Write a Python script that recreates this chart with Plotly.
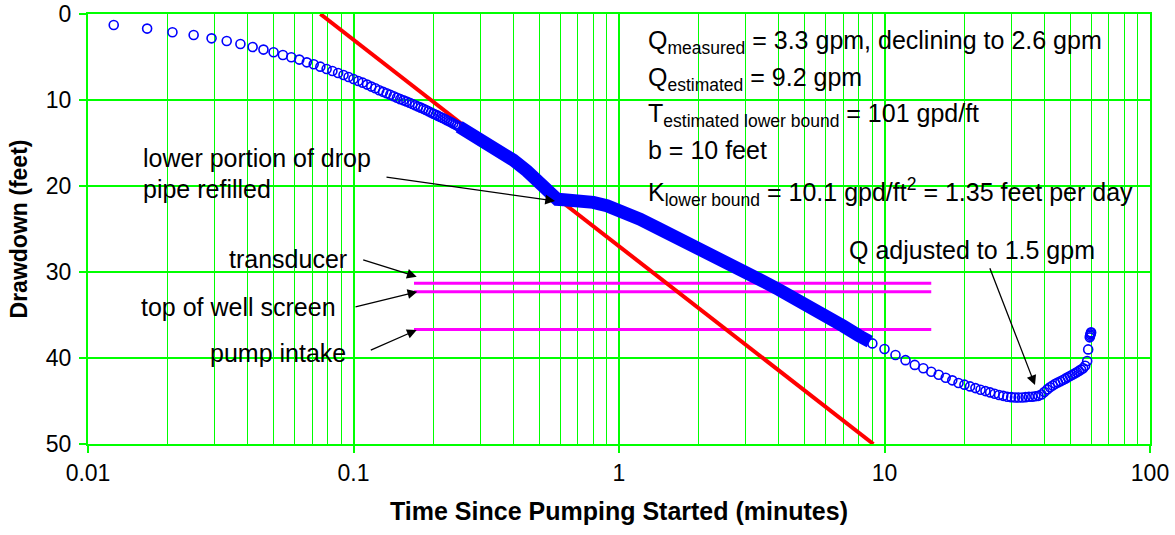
import plotly.graph_objects as go

# ---------------- data ----------------
# individually visible early samples (minutes, feet)
early_t = [0.0125, 0.0167, 0.0208, 0.0250, 0.0292, 0.0333, 0.0375, 0.0417, 0.0458, 0.0500,
           0.0542, 0.0583, 0.0625, 0.0667, 0.0708, 0.0750, 0.0792, 0.0833, 0.0875, 0.0917,
           0.0958, 0.1000, 0.1042, 0.1083, 0.1125, 0.1167, 0.1208, 0.1250, 0.1292, 0.1333,
           0.1375, 0.1417, 0.1458, 0.1500, 0.1542, 0.1583, 0.1625, 0.1667, 0.1708, 0.1750,
           0.1792, 0.1833, 0.1875, 0.1917, 0.1958, 0.2000, 0.2042, 0.2083, 0.2125, 0.2167,
           0.2208, 0.2250, 0.2292, 0.2333, 0.2375, 0.2417, 0.2458, 0.2500]
early_dd = [1.28, 1.70, 2.13, 2.44, 2.83, 3.14, 3.49, 3.84, 4.14, 4.45,
            4.77, 5.03, 5.30, 5.62, 5.85, 6.12, 6.40, 6.63, 6.86, 7.09,
            7.33, 7.56, 7.79, 7.98, 8.21, 8.44, 8.64, 8.87, 9.05, 9.22,
            9.39, 9.56, 9.73, 9.90, 10.04, 10.18, 10.32, 10.47, 10.61, 10.75,
            10.89, 11.03, 11.17, 11.31, 11.45, 11.60, 11.72, 11.85, 11.97, 12.10,
            12.22, 12.35, 12.47, 12.60, 12.72, 12.85, 12.97, 13.10]

# densely logged middle section (reads as a solid band)
band_t = [0.25, 0.30, 0.35, 0.40, 0.45, 0.50, 0.55, 0.585, 0.62, 0.70, 0.80, 0.90,
          1.0, 1.2, 1.4, 1.6, 1.8, 2.0, 2.5, 3.0, 3.5, 4.0, 5.0, 6.0, 7.0, 8.0, 8.8]
band_dd = [13.1, 14.5, 15.8, 17.0, 18.25, 19.45, 20.6, 21.55, 21.6, 21.7, 21.9, 22.3,
           22.8, 23.85, 24.9, 25.75, 26.5, 27.25, 28.8, 30.05, 31.1, 32.05, 33.6, 35.05,
           36.3, 37.4, 38.1]

# late samples, once per minute
late_t = [9, 10, 11, 12, 13, 14, 15, 16, 17, 18, 19, 20, 21, 22, 23, 24, 25, 26, 27, 28,
          29, 30, 31, 32, 33, 34, 35, 36, 37, 38, 39, 40, 41, 42, 43, 44, 45, 46, 47, 48,
          49, 50, 51, 52, 53, 54, 55, 56, 57, 58, 58.5, 59.3, 59.5, 59.7, 59.9, 60.0]
late_dd = [38.3, 38.95, 39.65, 40.25, 40.8, 41.2, 41.6, 41.95, 42.3, 42.6, 42.9, 43.1,
           43.3, 43.5, 43.7, 43.85, 44.0, 44.15, 44.3, 44.4, 44.5, 44.55, 44.6, 44.6,
           44.6, 44.55, 44.5, 44.5, 44.45, 44.4, 44.25, 43.95, 43.65, 43.4, 43.2, 43.0,
           42.85, 42.7, 42.55, 42.4, 42.25, 42.1, 41.95, 41.8, 41.65, 41.5, 41.35, 41.2,
           40.9, 40.35, 39.0, 37.6, 37.4, 37.25, 37.1, 37.0]

# straight-line (Cooper-Jacob) fit
fit_t = [0.075, 9.08]
fit_dd = [0.0, 50.0]

# reference levels
level_t = [0.169, 15.0]
transducer_dd = 31.3
screen_dd = 32.3
intake_dd = 36.7

x_tickvals = [0.01, 0.1, 1, 10, 100]
x_ticktext = ["0.01", "0.1", "1", "10", "100"]
y_tickvals = [0, 10, 20, 30, 40, 50]
minor_vals = [m * 10.0 ** e for e in range(-2, 2) for m in range(2, 10)]

GREEN = "#00FF00"
FONT = "Arial, Liberation Sans, Helvetica, sans-serif"

# plot-area geometry in pixels (for layout items in paper coords)
W, H = 1175, 535
ML, MR, MT, MB = 88, 25, 14, 91
PW, PH = W - ML - MR, H - MT - MB


def px(X):
    return (X - ML) / PW


def py(Y):
    return (H - MB - Y) / PH


fig = go.Figure()

for dd in (transducer_dd, screen_dd, intake_dd):
    fig.add_trace(go.Scatter(x=level_t, y=[dd, dd], mode="lines",
                             line=dict(color="#FF00FF", width=3), hoverinfo="skip"))

fig.add_trace(go.Scatter(x=fit_t, y=fit_dd, mode="lines",
                         line=dict(color="#FF0000", width=4), hoverinfo="skip"))

fig.add_trace(go.Scatter(x=band_t, y=band_dd, mode="lines",
                         line=dict(color="#0000FF", width=13)))

marker = dict(symbol="circle-open", size=9, color="#0000FF",
              line=dict(width=1.6, color="#0000FF"))
fig.add_trace(go.Scatter(x=early_t, y=early_dd, mode="markers", marker=marker))
fig.add_trace(go.Scatter(x=late_t, y=late_dd, mode="markers", marker=marker))

# white text boxes (cover gridlines, sit below traces)
boxes = [(644, 20, 1141, 203), (135, 141, 386, 205), (223, 244, 368, 276),
         (135, 294, 340, 324), (203, 340, 368, 370), (840, 233, 1137, 267)]
shapes = []
for x0, y0, x1, y1 in boxes:
    shapes.append(dict(type="rect", xref="paper", yref="paper",
                       x0=px(x0), x1=px(x1), y0=py(y1), y1=py(y0),
                       fillcolor="white", line=dict(width=0), layer="between"))

annotations = []


def text(t, X, Y, anchor="left"):
    annotations.append(dict(text=t, x=px(X), y=py(Y), xref="paper", yref="paper",
                            xanchor=anchor, yanchor="middle", showarrow=False,
                            font=dict(family=FONT, size=25, color="black")))


def arrow(tipX, tipY, tailX, tailY):
    annotations.append(dict(text="", x=px(tipX), y=py(tipY), xref="paper", yref="paper",
                            ax=tailX - tipX, ay=tailY - tipY, showarrow=True,
                            arrowhead=2, arrowsize=1.5, arrowwidth=1.3,
                            arrowcolor="black", standoff=0))


stats = ["Q<sub>measured</sub> = 3.3 gpm, declining to 2.6 gpm",
         "Q<sub>estimated</sub> = 9.2 gpm",
         "T<sub>estimated lower bound</sub> = 101 gpd/ft",
         "b = 10 feet",
         "K<sub>lower bound</sub> = 10.1 gpd/ft<sup>2</sup> = 1.35 feet per day"]
for s, Y in zip(stats, [42, 79.5, 115, 150, 192]):
    text(s, 646, Y)

text("lower portion of drop", 140.7, 157.5)
text("pipe refilled", 140.7, 189)
text("transducer", 288, 259, "center")
text("top of well screen", 238.3, 307.5, "center")
text("pump intake", 278, 353, "center")
text("Q adjusted to 1.5 gpm", 971.7, 250, "center")

arrow(555, 201, 385, 177)
arrow(416.7, 276.7, 361.7, 259.3)
arrow(417.3, 291.7, 354, 307.3)
arrow(416.7, 330, 369.3, 350.7)
arrow(1035, 385, 989.3, 266.7)

fig.update_layout(
    width=W, height=H,
    margin=dict(l=ML, r=MR, t=MT, b=MB, autoexpand=False),
    paper_bgcolor="white", plot_bgcolor="white",
    showlegend=False,
    shapes=shapes, annotations=annotations,
    font=dict(family=FONT, color="black"),
    xaxis=dict(type="log", range=[-2, 2], tickmode="array",
               tickvals=x_tickvals, ticktext=x_ticktext, automargin=False,
               showgrid=True, gridcolor=GREEN, gridwidth=1.5,
               ticks="outside", ticklen=7, tickcolor=GREEN, tickwidth=1.5,
               showline=True, linecolor=GREEN, linewidth=2, mirror=True,
               zeroline=False,
               minor=dict(tickmode="array", tickvals=minor_vals, showgrid=True,
                          gridcolor=GREEN, gridwidth=1.2, ticks=""),
               tickfont=dict(family=FONT, size=23, color="black"),
               title=dict(text="<b>Time Since Pumping Started (minutes)</b>",
                          font=dict(family=FONT, size=25, color="black"),
                          standoff=18)),
    yaxis=dict(range=[50, 0], tickmode="array", tickvals=y_tickvals, automargin=False,
               showgrid=True, gridcolor=GREEN, gridwidth=2,
               ticks="outside", ticklen=7, tickcolor=GREEN, tickwidth=2,
               showline=True, linecolor=GREEN, linewidth=2, mirror=True,
               zeroline=False, ticklabelstandoff=3,
               tickfont=dict(family=FONT, size=23, color="black"),
               title=dict(text="<b>Drawdown (feet)</b>",
                          font=dict(family=FONT, size=23, color="black"),
                          standoff=12)),
)

fig.write_html("out.html")
